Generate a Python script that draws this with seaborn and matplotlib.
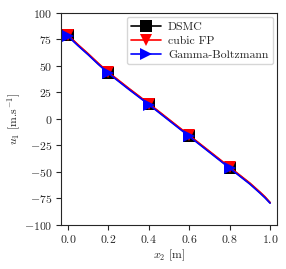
import numpy as np
import pandas as pd
import seaborn as sns
import matplotlib.pyplot as plt

# profile of u1 along x2
x2 = [0.0, 0.025, 0.05, 0.1, 0.15, 0.2, 0.3, 0.4, 0.5, 0.6, 0.7, 0.8, 0.85, 0.9, 0.95, 0.975, 1.0]
u_dsmc = [79, 74, 69.5, 61, 52, 43.5, 28.5, 14, -1, -16, -31, -46, -53.5, -61, -69.5, -74, -79]
u_cubic = [79.5, 74.5, 70, 61.5, 52.5, 44, 29, 14.5, -0.5, -15.5, -30.5, -45.5, -53, -60.5, -69, -73.5, -79]
u_gamma = [78.5, 73.5, 69, 60.5, 51.5, 43, 28, 13.5, -1.5, -16.5, -31.5, -46.5, -54, -61.5, -70, -74.5, -79.5]
marker_idx = [0, 5, 7, 9, 11]  # x2 = 0.0, 0.2, 0.4, 0.6, 0.8

sns.set_style("ticks")
plt.rcParams["font.family"] = "serif"
plt.rcParams["font.serif"] = ["cmr10"]
plt.rcParams["mathtext.fontset"] = "cm"
plt.rcParams["axes.formatter.use_mathtext"] = True
plt.rcParams["axes.unicode_minus"] = True

fig = plt.figure(figsize=(2.86, 2.69), dpi=100)
ax = fig.add_axes([0.213, 0.164, 0.756, 0.788])

series = [
    ("DSMC", u_dsmc, "black", "s"),
    ("cubic FP", u_cubic, "red", "v"),
    ("Gamma-Boltzmann", u_gamma, "blue", ">"),
]
for label, u, col, mk in series:
    df = pd.DataFrame({"x2": x2, "u1": u})
    sns.lineplot(data=df, x="x2", y="u1", ax=ax, color=col, marker=mk,
                 markersize=8, markevery=marker_idx, linewidth=1.2,
                 markeredgewidth=0, label=label, sort=False)

ax.set_xlim(-0.035, 1.035)
ax.set_ylim(-100, 100)
ax.set_xticks([0.0, 0.2, 0.4, 0.6, 0.8, 1.0])
ax.set_yticks([-100, -75, -50, -25, 0, 25, 50, 75, 100])
ax.set_xlabel(r"$x_2$ [m]", fontsize=8.5, labelpad=2)
ax.set_ylabel(r"$u_1$ [m.s$^{-1}$]", fontsize=8.5, labelpad=1)
ax.tick_params(labelsize=8.5, length=3.5, width=0.8, pad=2.5)
for s in ax.spines.values():
    s.set_linewidth(0.8)

ax.legend(loc="upper right", fontsize=8.5, handlelength=2.5,
          borderpad=0.4, labelspacing=0.3, handletextpad=0.6,
          framealpha=0.8, edgecolor="0.8", fancybox=True,
          borderaxespad=0.35)

fig.savefig("out.png", dpi=100)
